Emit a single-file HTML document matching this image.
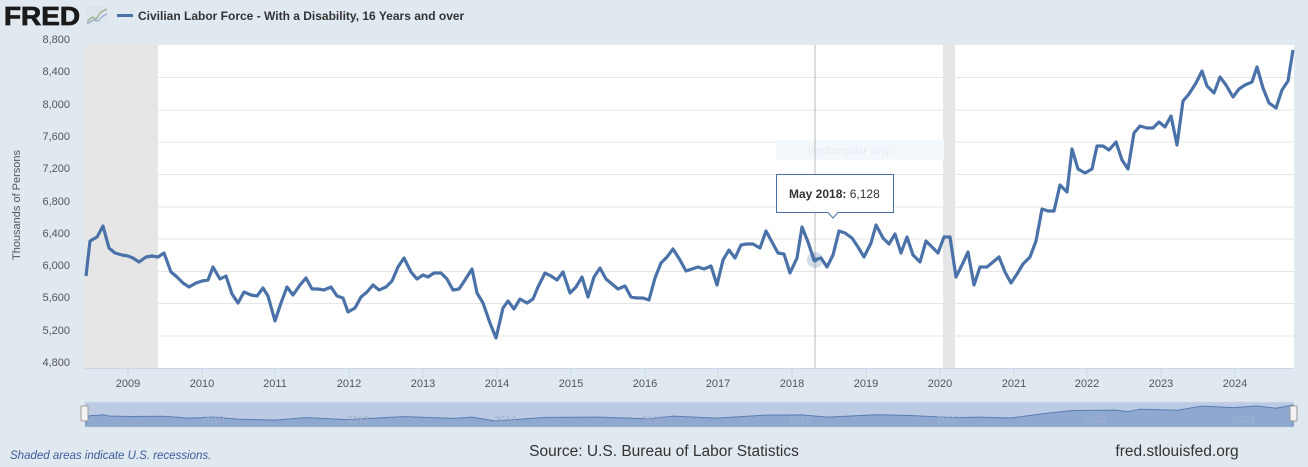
<!DOCTYPE html>
<html><head><meta charset="utf-8"><style>
html,body{margin:0;padding:0;}
body{width:1308px;height:467px;background:#e1e9f0;font-family:"Liberation Sans",sans-serif;position:relative;overflow:hidden;}
</style></head><body>
<svg width="1308" height="467" style="position:absolute;left:0;top:0" font-family="Liberation Sans, sans-serif">
<defs>
<polyline id="ser" fill="none" points="86,276 90,241 97,237 103,226 109,248 115,253 122,255 128,256 133,258 139,262 146,257 152,256 158,257 164,253 171,272 177,277 183,283 189,287 196,283 202,281 208,280 213,267 220,279 226,276 232,294 238,303 244,292 251,295 257,296 263,288 268,296 275,321 281,303 287,287 293,295 300,285 306,278 312,289 318,289 324,290 331,287 337,296 343,298 348,312 355,308 361,297 367,292 373,285 379,290 386,287 392,281 398,267 404,258 411,272 417,279 423,275 428,277 434,273 441,273 447,279 453,290 459,289 465,280 472,269 477,293 483,303 490,323 496,338 503,308 508,301 514,309 520,299 527,303 533,299 538,287 545,273 551,276 557,280 563,272 570,293 576,287 582,277 588,297 594,277 600,268 606,279 612,284 618,289 625,286 631,297 637,298 643,298 649,300 655,278 661,263 667,257 673,249 680,260 686,271 692,269 698,267 704,269 711,266 717,285 723,260 729,250 735,258 741,245 747,244 753,244 760,248 766,231 772,242 778,253 784,254 790,273 797,258 802,227 808,242 814,260 821,258 827,267 833,255 839,231 845,233 852,238 858,247 864,257 871,243 876,225 883,238 889,244 895,234 901,253 907,237 913,255 920,262 926,241 932,247 938,253 944,237 950,237 956,277 962,265 968,252 974,285 980,267 987,267 993,262 999,257 1005,272 1011,283 1017,274 1023,264 1030,257 1036,241 1042,209 1048,211 1054,211 1060,185 1067,192 1072,149 1078,169 1085,173 1092,169 1097,146 1103,146 1109,150 1116,142 1122,160 1128,169 1134,133 1140,126 1147,128 1153,128 1159,122 1165,127 1171,116 1177,145 1183,101 1189,94 1196,83 1202,71 1207,86 1214,93 1220,77 1226,85 1233,97 1239,89 1245,85 1252,82 1257,67 1263,88 1269,103 1276,108 1282,90 1288,81 1293,50"/>
</defs>
<!-- header -->
<text x="4" y="25" font-size="26" font-weight="bold" fill="#1a1a1a" textLength="76" lengthAdjust="spacingAndGlyphs" stroke="#1a1a1a" stroke-width="0.8">FRED</text>
<rect x="86" y="6" width="22" height="19" fill="#dde5ec"/>
<polyline points="87,22 92,17 96,19 101,12 107,9" fill="none" stroke="#9ab08a" stroke-width="1.3"/>
<polyline points="87,24 93,20 98,21 103,16 107,14" fill="none" stroke="#8fa9c8" stroke-width="1.2"/>
<rect x="117" y="14" width="16" height="3" fill="#4a72a8"/>
<text x="138" y="20" font-size="12" font-weight="bold" fill="#333">Civilian Labor Force - With a Disability, 16 Years and over</text>
<!-- plot -->
<rect x="85" y="45" width="1209" height="323" fill="#fff"/>
<rect x="85" y="45" width="73" height="323" fill="#e6e6e6"/>
<rect x="943" y="45" width="12" height="323" fill="#e6e6e6"/>
<g stroke="#e6e6e6" stroke-width="1">
<line x1="158" x2="1294" y1="77.5" y2="77.5"/><line x1="158" x2="1294" y1="110" y2="110"/>
<line x1="158" x2="1294" y1="142" y2="142"/><line x1="158" x2="1294" y1="174.5" y2="174.5"/>
<line x1="158" x2="1294" y1="207" y2="207"/><line x1="158" x2="1294" y1="239" y2="239"/>
<line x1="158" x2="1294" y1="271.5" y2="271.5"/><line x1="158" x2="1294" y1="303.5" y2="303.5"/>
<line x1="158" x2="1294" y1="336" y2="336"/>
</g>
<line x1="85" x2="1294" y1="368.5" y2="368.5" stroke="#ccd6eb"/>
<g stroke="#ccd6eb">
<line x1="128" x2="128" y1="368" y2="378"/><line x1="202" x2="202" y1="368" y2="378"/><line x1="275" x2="275" y1="368" y2="378"/><line x1="349" x2="349" y1="368" y2="378"/><line x1="423" x2="423" y1="368" y2="378"/><line x1="497" x2="497" y1="368" y2="378"/><line x1="571" x2="571" y1="368" y2="378"/><line x1="645" x2="645" y1="368" y2="378"/><line x1="718" x2="718" y1="368" y2="378"/><line x1="792" x2="792" y1="368" y2="378"/><line x1="866" x2="866" y1="368" y2="378"/><line x1="940" x2="940" y1="368" y2="378"/><line x1="1014" x2="1014" y1="368" y2="378"/><line x1="1087" x2="1087" y1="368" y2="378"/><line x1="1161" x2="1161" y1="368" y2="378"/><line x1="1235" x2="1235" y1="368" y2="378"/>
</g>
<g font-size="11" fill="#555" text-anchor="middle">
<text x="128" y="387">2009</text><text x="202" y="387">2010</text><text x="275" y="387">2011</text><text x="349" y="387">2012</text><text x="423" y="387">2013</text><text x="497" y="387">2014</text><text x="571" y="387">2015</text><text x="645" y="387">2016</text><text x="718" y="387">2017</text><text x="792" y="387">2018</text><text x="866" y="387">2019</text><text x="940" y="387">2020</text><text x="1014" y="387">2021</text><text x="1087" y="387">2022</text><text x="1161" y="387">2023</text><text x="1235" y="387">2024</text>
</g>
<g font-size="11" fill="#555" text-anchor="end">
<text x="70" y="43">8,800</text><text x="70" y="75">8,400</text><text x="70" y="108">8,000</text><text x="70" y="140">7,600</text><text x="70" y="172">7,200</text><text x="70" y="205">6,800</text><text x="70" y="237">6,400</text><text x="70" y="269">6,000</text><text x="70" y="301">5,600</text><text x="70" y="334">5,200</text><text x="70" y="366">4,800</text>
</g>
<text transform="translate(20,205) rotate(-90)" font-size="11" fill="#555" text-anchor="middle">Thousands of Persons</text>
<!-- snip ghost -->
<rect x="776" y="140" width="168" height="20" fill="#f3f8fd"/>
<text x="808" y="154" font-size="11" fill="#e4ebf3">Rectangular Snip</text>
<line x1="815" x2="815" y1="45" y2="368" stroke="#b8b8b8" stroke-width="1"/>
<use href="#ser" stroke="#4a72a8" stroke-width="3.2" stroke-linejoin="round"/>
<circle cx="815" cy="260" r="8" fill="#4a72a8" opacity="0.25"/>
<circle cx="815" cy="260" r="2.5" fill="#4a72a8"/>
<!-- tooltip -->
<path d="M776.5,174.5 H893.5 V212.5 H838 L833,218 L828,212.5 H776.5 Z" fill="#fff" fill-opacity="0.95" stroke="#4a72a8" stroke-width="1"/>
<text x="789" y="198" font-size="12" fill="#333"><tspan font-weight="bold">May 2018:</tspan> 6,128</text>
<!-- navigator -->
<rect x="85" y="402" width="1209" height="25" fill="#bccbe3"/>
<g transform="translate(0,405) scale(1,0.0556) translate(0,-50)">
<polygon points="86,276 90,241 97,237 103,226 109,248 128,256 164,253 189,287 213,267 238,303 275,321 306,278 348,312 404,258 453,290 472,269 496,338 545,273 600,268 649,300 673,249 717,285 766,231 802,227 827,267 876,225 907,237 956,277 980,267 1011,283 1042,209 1072,149 1116,142 1128,169 1140,126 1177,145 1202,71 1233,97 1257,67 1276,108 1293,50 1293,440 86,440" fill="#8ea8d0" stroke="#5a7db3" stroke-width="1" vector-effect="non-scaling-stroke"/>
</g>
<rect x="85" y="402" width="1209" height="25" fill="none" stroke="#cfd9e8"/>
<g font-size="10" fill="#9fb1cc" text-anchor="middle">
<text x="213" y="423">2010</text><text x="358" y="423">2012</text><text x="505" y="423">2014</text><text x="653" y="423">2016</text><text x="800" y="423">2018</text><text x="948" y="423">2020</text><text x="1095" y="423">2022</text><text x="1244" y="423">2024</text>
</g>
<rect x="81" y="406" width="7" height="15" rx="1" fill="#f2f2f2" stroke="#999"/>
<rect x="1290" y="406" width="7" height="15" rx="1" fill="#f2f2f2" stroke="#999"/>
<!-- footer -->
<text x="10" y="459" font-size="11.5" font-style="italic" fill="#3d5a99">Shaded areas indicate U.S. recessions.</text>
<text x="664" y="456" font-size="15.5" fill="#333" text-anchor="middle">Source: U.S. Bureau of Labor Statistics</text>
<text x="1177" y="456" font-size="15.5" fill="#333" text-anchor="middle">fred.stlouisfed.org</text>
</svg>
</body></html>
